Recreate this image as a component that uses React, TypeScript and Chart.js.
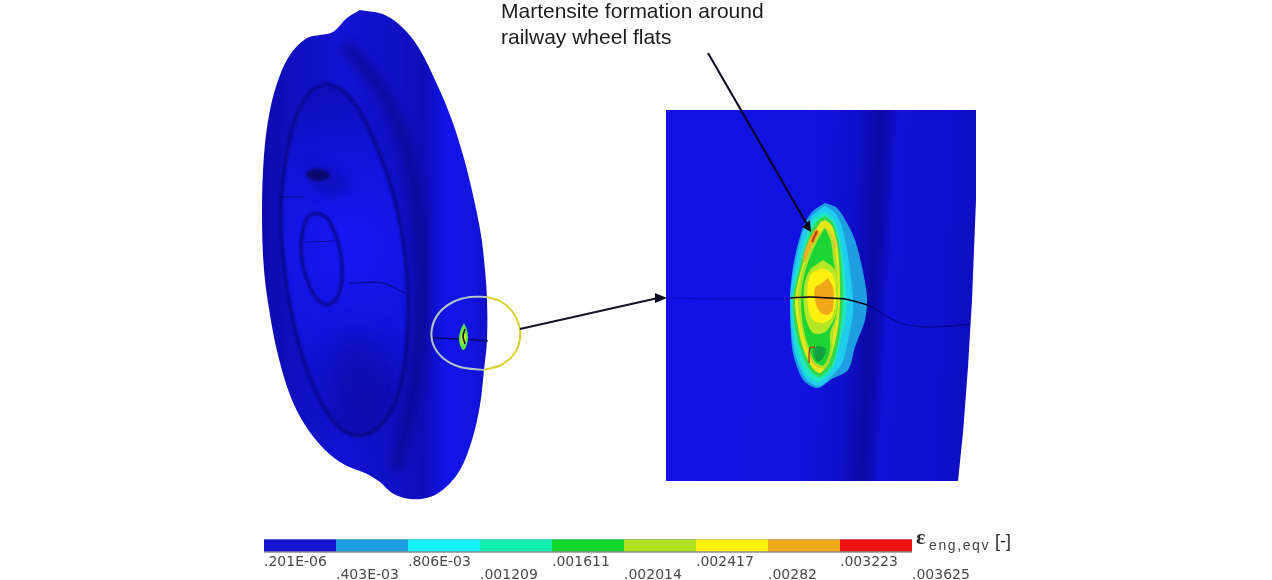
import React, { useEffect, useRef } from "react";
import { Chart, registerables } from "chart.js";

Chart.register(...registerables);

type P = [number, number];

const annotationLines = ["Martensite formation around", "railway wheel flats"];
const legendSymbol = "ε";
const legendSubscript = "eng,eqv";
const legendUnit = "[-]";

const strainTicks = [".201E-06", ".403E-03", ".806E-03", ".001209", ".001611", ".002014", ".002417", ".00282", ".003223", ".003625"];
const colorbarEdges = [264, 336, 408, 480, 552, 624, 696, 768, 840, 912];
const colorbarColors = ["#1616d2", "#1a9fe0", "#16f2fa", "#12eeb0", "#12d82c", "#aee01e", "#fff010", "#eea818", "#ee1010"];

const wheelOutline: P[] = [[360,10],[385,15],[405,30],[420,50],[435,80],[450,115],[463,155],[473,195],[481,235],[485,270],[487,300],[487,340],[484,370],[480,405],[472,440],[460,470],[445,488],[430,497],[410,499],[392,493],[380,482],[365,473],[345,465],[325,450],[305,425],[290,395],[278,355],[270,315],[264,270],[262,213],[264,155],[270,110],[280,75],[292,52],[307,38],[320,35],[333,32],[347,18],[360,10]];
const discRing: P[] = [[327,83],[345,92],[362,115],[378,150],[392,190],[402,235],[407,280],[408,320],[405,360],[398,395],[385,420],[368,434],[350,434],[332,420],[316,392],[302,355],[291,310],[284,265],[281,215],[285,165],[295,120],[310,92],[327,83]];
const hubRing: P[] = [[318,213],[328,219],[336,236],[341,256],[342,278],[338,296],[328,305],[318,300],[309,285],[303,266],[301,246],[304,226],[310,215],[318,213]];
const darkBand: P[] = [[345,45],[375,80],[400,130],[415,190],[422,260],[420,330],[412,400],[395,470]];
const lowerShadow: P[] = [[345,330],[375,340],[395,380],[385,420],[360,430],[340,405],[330,365]];
const upperSmudge: P[] = [[306,172],[316,169],[328,172],[330,177],[318,181],[308,178],[306,172]];
const upperShadow: P[] = [[306,165],[335,170],[350,185],[335,195],[315,190],[306,165]];
const spokeA: P[] = [[278,197],[305,197]];
const spokeB: P[] = [[305,242],[335,241]];
const spokeC: P[] = [[350,283],[383,283],[405,293]];
const wheelSeam: P[] = [[433,338],[460,339],[488,341]];

const circleGrey: P[] = [[487,297],[470,297],[453,302],[439,313],[432,328],[433,344],[443,358],[460,367],[484,370]];
const circleYellow: P[] = [[487,297],[500,301],[512,311],[519,325],[520,339],[514,354],[501,365],[484,370]];
const spotOuter: P[] = [[464,323],[467,330],[468,338],[466,347],[463,350],[460,345],[459,337],[461,329],[464,323]];
const spotInner: P[] = [[464,329],[466,336],[465,344],[462,343],[461,336],[464,329]];
const spotMark: P[] = [[465,329],[463,336],[465,344]];

const panelOutline: P[] = [[666,110],[976,110],[976,200],[972,300],[968,367],[963,433],[958,481],[666,481],[666,110]];
const panelStops: [number, string][] = [[0,"#1212e6"],[0.5,"#1212e0"],[0.62,"#0f0fcc"],[0.69,"#0a0aa4"],[0.715,"#0c0cb8"],[0.74,"#1111d8"],[0.9,"#1010d0"],[1,"#0e0ec0"]];

const contourBlue: P[] = [[825,203],[837,208],[847,223],[855,240],[862,267],[867,297],[865,320],[855,347],[848,370],[832,379],[818,388],[805,382],[797,367],[792,347],[790,300],[793,267],[802,230],[812,212],[825,203]];
const contourCyan: P[] = [[825,206],[835,213],[842,227],[847,250],[852,287],[853,313],[848,340],[842,363],[828,380],[818,386],[807,380],[798,363],[793,343],[790,300],[794,270],[803,232],[813,215],[825,206]];
const contourTeal: P[] = [[825,212],[834,220],[841,243],[846,287],[846,313],[840,343],[832,370],[818,382],[807,375],[799,357],[794,333],[792,300],[797,270],[807,233],[815,218],[825,212]];
const contourGreen: P[] = [[825,216],[833,223],[840,250],[843,293],[841,327],[833,363],[820,377],[810,370],[801,350],[795,327],[793,300],[799,270],[810,233],[818,220],[825,216]];
const contourYellow: P[] = [[825,220],[832,226],[838,250],[840,293],[838,327],[830,360],[820,373],[812,367],[803,348],[798,327],[795,300],[801,270],[812,237],[820,223],[825,220]];
const patchOrangeTop: P[] = [[816,228],[820,235],[806,263],[803,258],[809,240],[816,228]];
const patchOrangeLow: P[] = [[809,350],[815,352],[820,368],[812,362],[809,350]];
const patchOrangeRight: P[] = [[832,232],[837,245],[834,250],[831,238],[832,232]];
const contourLime: P[] = [[824,227],[831,234],[836,257],[838,287],[837,317],[833,333],[832,353],[825,368],[815,364],[806,345],[800,320],[798,297],[802,272],[811,248],[824,227]];
const contourInnerGreen: P[] = [[825,228],[831,242],[833,258],[835,270],[838,300],[835,320],[830,333],[830,350],[824,365],[815,362],[808,345],[803,325],[801,297],[805,272],[812,252],[819,238],[825,228]];
const contourCentreLime: P[] = [[823,260],[835,270],[838,297],[835,317],[825,332],[813,333],[805,315],[804,287],[810,270],[823,260]];
const contourCentreYellow: P[] = [[823,268],[833,275],[836,297],[832,317],[823,323],[813,320],[808,307],[808,283],[813,272],[823,268]];
const contourCentreOrange: P[] = [[828,278],[833,287],[833,308],[828,315],[820,312],[815,300],[815,288],[822,283],[828,278]];
const lobeDarkGreen: P[] = [[813,349],[818,346],[826,349],[823,358],[818,362],[814,356],[813,349]];
const stripeRed: P[] = [[817,231],[812,242]];
const hookBrown: P[] = [[809,363],[810,348],[815,347]];

const seamFaint: P[] = [[666,298],[720,299],[790,299]];
const seamBlack: P[] = [[790,298],[810,297],[830,298],[845,299],[868,305]];
const seamRight: P[] = [[868,305],[880,312],[900,323],[925,327],[950,326],[970,324]];

const arrowDown: P[] = [[708,53],[808,226]];
const arrowDownHead: P[] = [[811,232],[802,227],[810,220],[811,232]];
const arrowSide: P[] = [[520,329],[658,298]];
const arrowSideHead: P[] = [[667,298],[655,293],[655,303],[667,298]];

const toPoints = (list: P[]) => list.map(([x, y]) => ({ x, y }));

export default function App() {
  const ref = useRef<HTMLCanvasElement>(null);
  useEffect(() => {
    const canvas = ref.current!;
    const g = canvas.getContext("2d")!;

    const linear = (x0: number, y0: number, x1: number, y1: number, stops: [number, string][]) => {
      const grad = g.createLinearGradient(x0, y0, x1, y1);
      stops.forEach(([t, c]) => grad.addColorStop(t, c));
      return grad;
    };
    const wheelFill = linear(262, 0, 487, 0, [[0,"#0c0cac"],[0.1,"#0f0fba"],[0.35,"#1313d4"],[0.62,"#1010c4"],[0.72,"#0e0eb8"],[0.82,"#1414ec"],[0.94,"#1313e0"],[1,"#1010c8"]]);
    const discFill = g.createRadialGradient(350, 245, 10, 345, 260, 190);
    discFill.addColorStop(0, "#1717f2");
    discFill.addColorStop(0.45, "#1313dc");
    discFill.addColorStop(1, "#0e0eb4");
    const panelFill = linear(660, 0, 989.5, 17.8, panelStops);

    const area = (data: P[], color: any, blur = 0.6, tension = 0.3) => ({
      data: toPoints(data), showLine: true, fill: "shape", backgroundColor: color,
      borderColor: "transparent", borderWidth: 0, pointRadius: 0, tension, clip: false, blurPx: blur,
    });
    const stroke = (data: P[], color: string, width: number, blur = 0.5, tension = 0.3) => ({
      data: toPoints(data), showLine: true, fill: false, borderColor: color, backgroundColor: color,
      borderWidth: width, pointRadius: 0, tension, clip: false, blurPx: blur, borderCapStyle: "butt",
    });

    const layers: any[] = [
      area(wheelOutline, wheelFill, 0.7, 0.35),
      area(discRing, discFill, 1.2),
      stroke(darkBand, "rgba(8,8,120,0.5)", 13, 5),
      area(lowerShadow, "rgba(8,8,120,0.3)", 12),
      area(upperShadow, "rgba(8,8,120,0.3)", 6),
      area(upperSmudge, "rgba(6,6,70,0.7)", 1.5),
      stroke(discRing, "rgba(6,6,110,0.7)", 3, 1),
      stroke(hubRing, "rgba(6,6,110,0.75)", 3, 0.8),
      stroke(spokeA, "rgba(6,6,95,0.6)", 1.2),
      stroke(spokeB, "rgba(6,6,95,0.6)", 1.2),
      stroke(spokeC, "rgba(6,6,95,0.65)", 1.4),
      stroke(wheelSeam, "rgba(5,5,70,0.8)", 1.4),
      area(spotOuter, "#58e84a", 0.6),
      area(spotInner, "#c8e828", 0.6),
      stroke(spotMark, "#06122a", 1.6, 0.4),
      stroke(circleGrey, "#b4c6c2", 2, 0.4, 0.35),
      stroke(circleYellow, "#d6d030", 2, 0.4, 0.35),

      area(panelOutline, panelFill, 0, 0),
      stroke(seamFaint, "rgba(5,5,110,0.35)", 1, 0.5),
      area(contourBlue, "#1e9ee0", 0.5),
      area(contourCyan, "#20cdee", 0.5),
      area(contourTeal, "#1ee8c0", 0.5),
      area(contourGreen, "#34d84c", 0.5),
      area(contourYellow, "#e6e81c", 0.5),
      area(patchOrangeTop, "#eeb024", 0.7),
      area(patchOrangeLow, "#eeb024", 0.7),
      area(patchOrangeRight, "#f0c838", 0.7),
      area(contourLime, "#a8e22c", 0.6),
      area(contourInnerGreen, "#1cd434", 0.6),
      area(contourCentreLime, "#b4e824", 0.6),
      area(contourCentreYellow, "#fff010", 0.6),
      area(contourCentreOrange, "#f0a818", 0.6),
      area(lobeDarkGreen, "#12a040", 0.7),
      stroke(stripeRed, "#c03818", 2.2, 0.4),
      stroke(hookBrown, "#a04020", 1.4, 0.3),
      stroke(seamBlack, "#000018", 1.5, 0.3),
      stroke(seamRight, "rgba(0,0,110,0.7)", 1.3, 0.5),

      stroke(arrowDown, "#05051e", 2, 0.3, 0),
      area(arrowDownHead, "#05051e", 0.3, 0),
      stroke(arrowSide, "#141428", 2, 0.3, 0),
      area(arrowSideHead, "#0a0a20", 0.3, 0),

      stroke([[264, 539.5], [912, 539.5]], "#9aa8b8", 1.2, 0, 0),
      ...colorbarColors.map((c, i) =>
        stroke([[colorbarEdges[i], 545.5], [colorbarEdges[i + 1], 545.5]], c, 12, 0, 0)),
      stroke([[264, 552], [912, 552]], "#50565c", 1.2, 0, 0),
    ];
    layers.forEach((d, i) => { d.order = layers.length - i; });

    const softness = {
      id: "softness",
      beforeDatasetsDraw(chart: any) {
        const b = chart.data.datasets[0].blurPx;
        chart.ctx.filter = b ? `blur(${b}px)` : "none";
      },
      afterDatasetDraw(chart: any, args: any) {
        const next = chart.data.datasets[args.index + 1];
        chart.ctx.filter = next && next.blurPx ? `blur(${next.blurPx}px)` : "none";
      },
      afterDatasetsDraw(chart: any) {
        chart.ctx.filter = "none";
      },
    };
    const captions = {
      id: "captions",
      afterDraw(chart: any) {
        const ctx = chart.ctx;
        ctx.save();
        ctx.textBaseline = "alphabetic";
        ctx.textAlign = "left";
        ctx.fillStyle = "#1c1c1c";
        ctx.font = '21px "Liberation Sans"';
        ctx.fillText(annotationLines[0], 501, 18);
        ctx.fillText(annotationLines[1], 501, 44);
        ctx.fillStyle = "#2a2a2a";
        ctx.font = 'bold 22px "Liberation Serif"';
        ctx.fillText(legendSymbol, 916, 544);
        ctx.font = '14px "Liberation Sans"';
        ctx.fillStyle = "#444";
        ctx.letterSpacing = "1.6px";
        ctx.fillText(legendSubscript, 929, 550);
        ctx.letterSpacing = "0px";
        ctx.font = '18px "Liberation Sans"';
        ctx.fillStyle = "#2a2a2a";
        ctx.fillText(legendUnit, 995, 547);
        ctx.restore();
      },
    };

    const chart = new Chart(canvas, {
      type: "scatter",
      data: { datasets: layers },
      plugins: [softness, captions],
      options: {
        animation: false,
        responsive: false,
        events: [],
        layout: { padding: 0 },
        plugins: { legend: { display: false }, title: { display: false }, tooltip: { enabled: false } },
        scales: {
          x: {
            type: "linear", min: 0, max: 1272,
            grid: { display: false, drawTicks: false }, border: { display: false },
            afterBuildTicks: (s: any) => { s.ticks = colorbarEdges.map((value) => ({ value })); },
            afterFit: (s: any) => { s.height = 28; },
            ticks: {
              autoSkip: false, maxRotation: 0, minRotation: 0, align: "start", padding: 4,
              color: "#4a4a4a", font: { family: "DejaVu Sans", size: 14, lineHeight: 0.9 },
              callback: (_v: any, i: number) => (i % 2 === 0 ? [strainTicks[i], ""] : ["", strainTicks[i]]),
            },
          },
          y: { type: "linear", min: 0, max: 552, reverse: true, display: false },
        },
      },
    } as any);
    return () => chart.destroy();
  }, []);
  return (
    <canvas ref={ref} width={1272} height={580}
      style={{ position: "absolute", left: 0, top: 0, display: "block" }} />
  );
}
